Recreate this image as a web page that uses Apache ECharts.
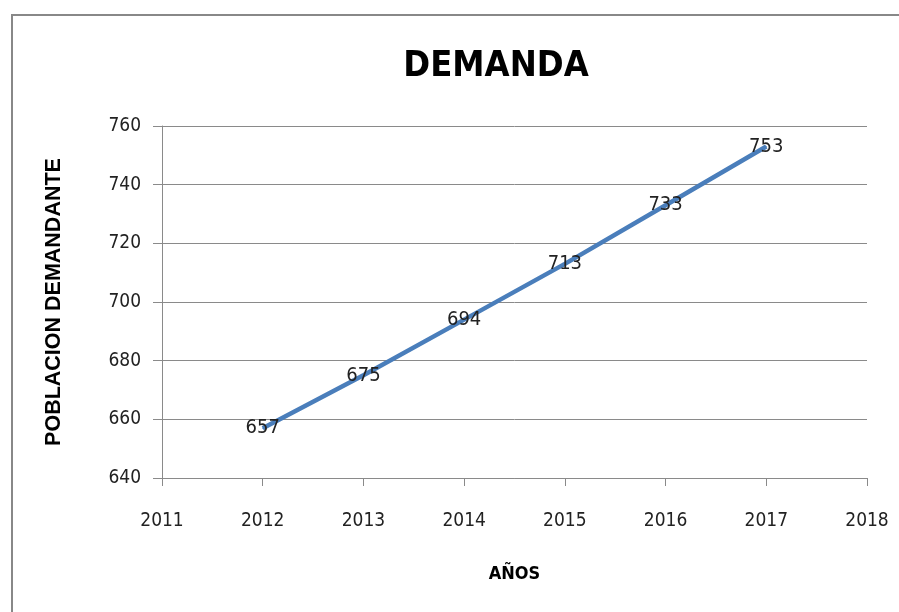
<!DOCTYPE html>
<html>
<head>
<meta charset="utf-8">
<script src="https://cdn.jsdelivr.net/npm/echarts@6/dist/echarts.min.js"></script>
<style>
html,body{margin:0;padding:0;background:#fff;}
#chart{width:899px;height:612px;}
</style>
</head>
<body>
<div id="chart"></div>
<script>
var titleText = 'DEMANDA';
var xAxisName = 'AÑOS';
var yAxisName = 'POBLACION DEMANDANTE';
var years = [2012, 2013, 2014, 2015, 2016, 2017];
var demanda = [657, 675, 694, 713, 733, 753];
var xMin = 2011, xMax = 2018, xStep = 1;
var yMin = 640, yMax = 760, yStep = 20;

var narrow = "'DejaVu Sans Condensed', 'Liberation Sans Narrow', sans-serif";
var wide = "'Liberation Sans', Arial, sans-serif";
var gridColor = '#8a8a8a';
var textColor = '#222';
var lineColor = '#4A7EBB';

var seriesData = years.map(function (y, i) { return [y, demanda[i]]; });

var chart = echarts.init(document.getElementById('chart'), null, {renderer: 'canvas'});
chart.setOption({
  backgroundColor: '#fff',
  animation: false,
  title: {
    text: titleText,
    left: 491,
    textAlign: 'center',
    top: 44,
    textStyle: {fontFamily: narrow, fontWeight: 'bold', fontSize: 36, color: '#000'}
  },
  graphic: [{
    type: 'rect',
    shape: {x: 12, y: 15, width: 1200, height: 1200},
    style: {fill: null, stroke: '#888', lineWidth: 2},
    silent: true
  }],
  grid: {left: 162, right: 32, top: 126, bottom: 134, containLabel: false},
  xAxis: {
    type: 'value',
    min: xMin, max: xMax, interval: xStep,
    name: xAxisName,
    nameLocation: 'middle',
    nameGap: 87,
    nameTextStyle: {fontFamily: narrow, fontWeight: 'bold', fontSize: 18, color: '#000'},
    axisLine: {show: true, lineStyle: {color: gridColor, width: 1}},
    axisTick: {show: true, length: 8, inside: false, lineStyle: {color: gridColor}},
    splitLine: {show: false},
    axisLabel: {fontFamily: narrow, fontSize: 19, color: textColor, margin: 34,
      formatter: function (v) { return String(v); }}
  },
  yAxis: {
    type: 'value',
    min: yMin, max: yMax, interval: yStep,
    name: yAxisName,
    nameLocation: 'middle',
    nameRotate: 90,
    nameGap: 97,
    nameTextStyle: {fontFamily: wide, fontWeight: 'bold', fontSize: 21.5, color: '#000'},
    axisLine: {show: true, lineStyle: {color: gridColor, width: 1}},
    axisTick: {show: true, length: 9, inside: false, lineStyle: {color: gridColor}},
    splitLine: {show: true, lineStyle: {color: gridColor, width: 1}},
    axisLabel: {fontFamily: narrow, fontSize: 19, color: textColor, margin: 21}
  },
  series: [{
    type: 'line',
    data: seriesData,
    symbol: 'circle',
    symbolSize: 1,
    showSymbol: true,
    itemStyle: {color: lineColor},
    lineStyle: {color: lineColor, width: 4.5},
    label: {
      show: true,
      position: 'inside',
      fontFamily: narrow,
      fontSize: 20,
      color: textColor
    }
  }]
});
</script>
</body>
</html>
